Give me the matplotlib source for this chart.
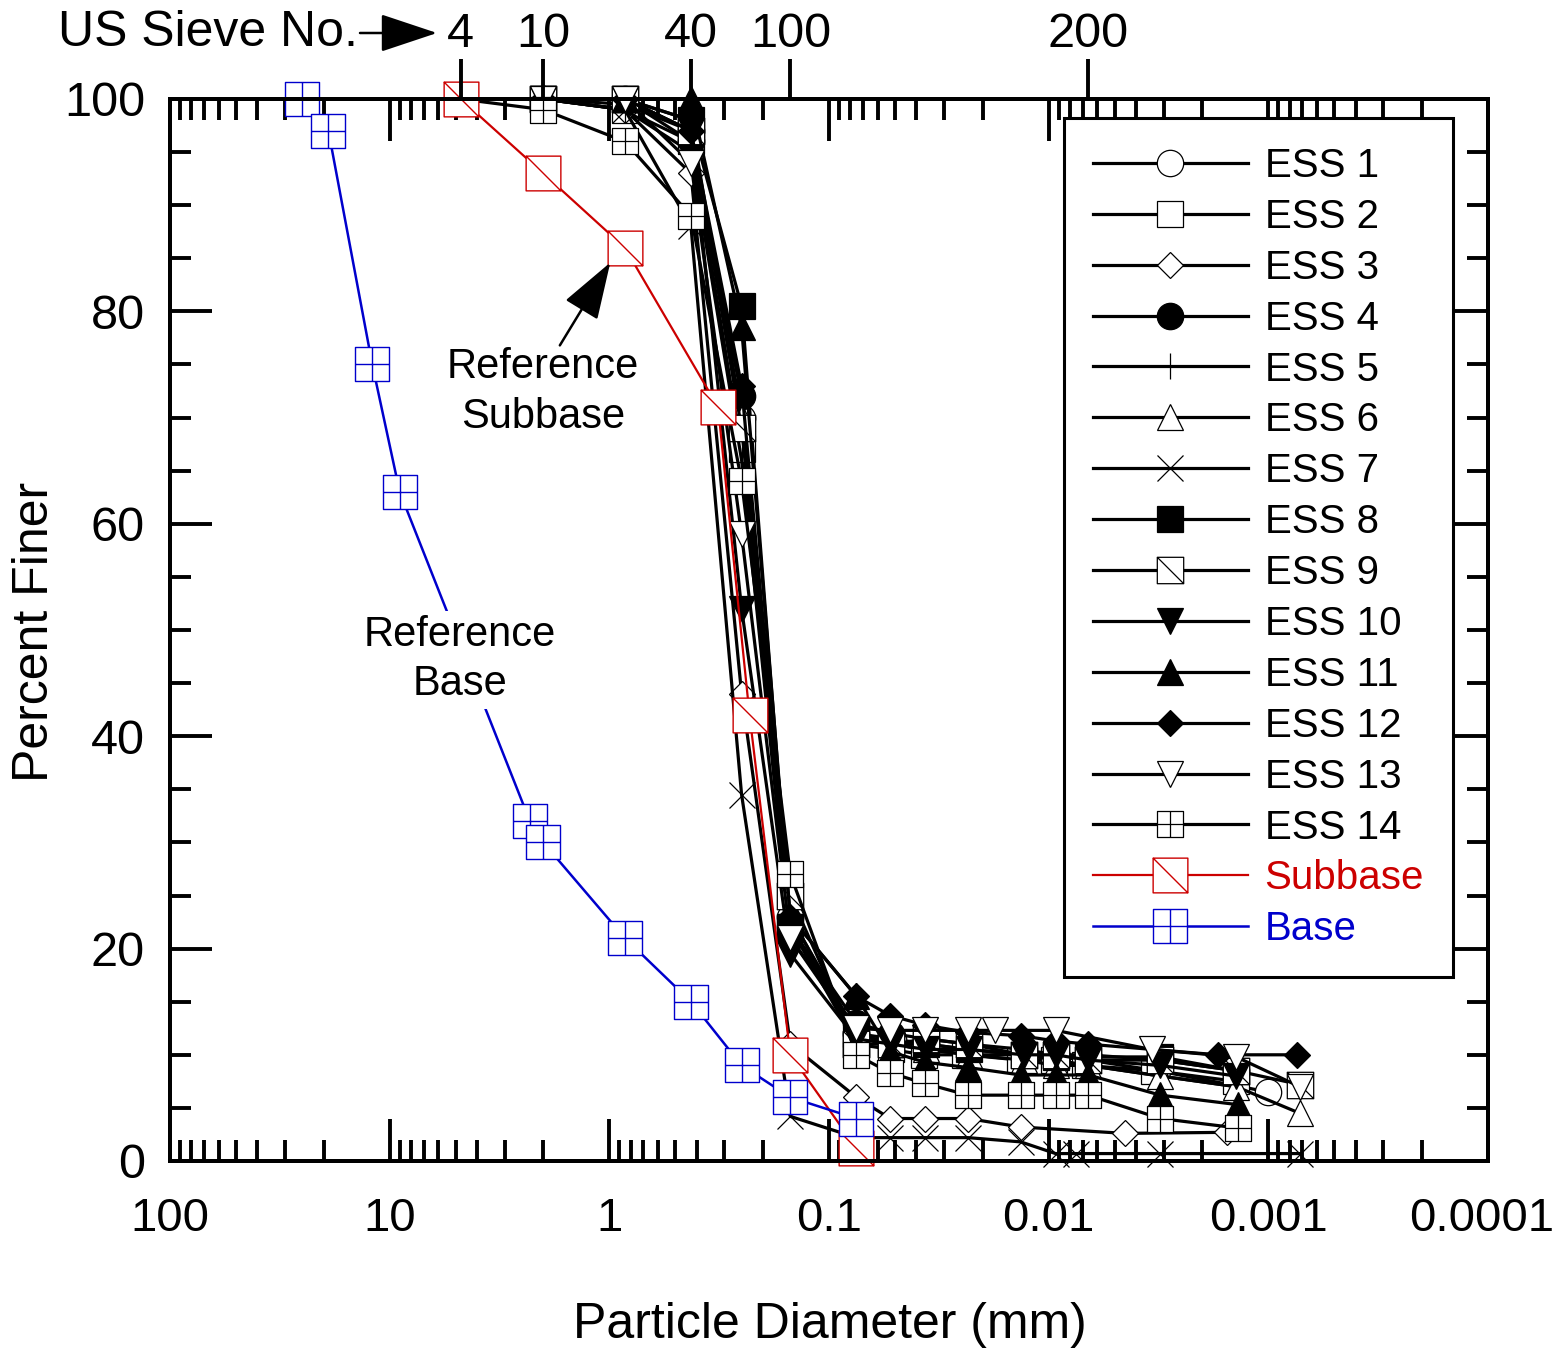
import numpy as np
import matplotlib
matplotlib.use("Agg")
import matplotlib.pyplot as plt
from matplotlib.path import Path
from matplotlib.ticker import LogLocator, MultipleLocator, NullFormatter, NullLocator, FuncFormatter

plt.rcParams['font.family'] = ['Liberation Sans', 'DejaVu Sans']

# sieve openings used for all ESS samples (mm)
sieve_d = [4.75, 2.0, 0.85, 0.425, 0.25, 0.15, 0.075]

ess_labels = [f"ESS {i}" for i in range(1, 15)]

# percent finer at the sieve sizes, one row per sample
ess_sieve_pct = [
    [100, 100, 99.5, 97, 70, 23, 12],
    [100, 100, 99, 96, 67, 22, 11],
    [100, 100, 99, 93, 44, 11, 6],
    [100, 100, 100, 96, 72, 22, 13],
    [100, 100, 99, 95, 66, 21, 12],
    [100, 100, 100, 98, 70, 23, 12],
    [100, 100, 99, 88, 34.5, 4.2, 2.2],
    [100, 100, 100, 98, 80.5, 22, 12],
    [100, 100, 100, 97, 69, 25, 11],
    [100, 100, 100, 97, 52, 19.5, 11.5],
    [100, 100, 100, 100, 78.5, 23, 15.5],
    [100, 100, 100, 97, 73, 23, 15.5],
    [100, 100, 100, 94, 59, 21, 12.5],
    [100, 99, 96, 89, 64, 27, 10],
]

# hydrometer part
ess_hyd_d = [
    [0.051, 0.036, 0.023, 0.013, 0.0092, 0.0066, 0.0032, 0.001],
    [0.052, 0.037, 0.024, 0.0135, 0.0095, 0.0068, 0.0033, 0.0014],
    [0.0527, 0.0366, 0.0233, 0.0134, 0.0045, 0.00154],
    [0.052, 0.036, 0.023, 0.013, 0.0093, 0.0066, 0.0031, 0.0014],
    [0.052, 0.036, 0.023, 0.013, 0.0093, 0.0066, 0.0031, 0.0014],
    [0.052, 0.036, 0.023, 0.013, 0.0093, 0.0066, 0.0031, 0.0014, 0.00072],
    [0.0527, 0.0366, 0.0233, 0.0134, 0.0093, 0.0075, 0.0031, 0.00072],
    [0.052, 0.036, 0.023, 0.013, 0.0093, 0.0066, 0.0031, 0.0014],
    [0.052, 0.036, 0.023, 0.013, 0.0093, 0.0066, 0.0031, 0.0014, 0.00072],
    [0.052, 0.036, 0.023, 0.013, 0.0093, 0.0066, 0.0031, 0.0014],
    [0.0527, 0.0366, 0.0233, 0.0134, 0.0093, 0.0066, 0.0031, 0.00137],
    [0.0527, 0.0366, 0.0233, 0.0134, 0.0093, 0.0066, 0.0017, 0.00074],
    [0.0527, 0.0366, 0.0233, 0.0175, 0.0093, 0.0034, 0.0014, 0.00072],
    [0.0527, 0.0366, 0.0233, 0.0134, 0.0093, 0.0066, 0.0031, 0.00137],
]
ess_hyd_pct = [
    [11.5, 11, 10.5, 10, 9.8, 9.5, 8.5, 6.5],
    [10.5, 10, 10, 9.5, 9.5, 9, 8.5, 7.5],
    [4, 4, 4, 3.2, 2.6, 2.7],
    [12, 11.5, 11, 10.5, 10, 10, 9.5, 8.5],
    [11, 10.5, 10, 10, 9.5, 9, 8, 7],
    [11, 10.5, 10, 9.5, 9, 9, 8, 7, 4.5],
    [2.2, 2.2, 2.2, 1.8, 0.7, 0.7, 0.7, 0.7],
    [11, 11, 10.5, 10, 9.8, 9.8, 9.8, 8.5],
    [11, 11.5, 11, 10, 10, 9.5, 9.5, 8.5, 7.2],
    [11, 10.5, 10.5, 10, 10, 9.5, 9, 8],
    [10.3, 9.3, 8.8, 8.1, 8.1, 8.1, 6.2, 5.3],
    [13.7, 12.8, 12.1, 11.8, 11.3, 11, 10, 10],
    [12.3, 12.3, 12.3, 12.3, 12.3, 10.5, 9.8, 7],
    [8.3, 7.3, 6.2, 6.2, 6.2, 6.2, 4, 3.1],
]

# reference gradations
subbase_d = [4.75, 2.0, 0.85, 0.32, 0.23, 0.15, 0.075]
subbase_pct = [100, 93, 86, 71, 42, 10, 1.2]
base_d = [25, 19, 12, 9, 2.3, 2.0, 0.85, 0.425, 0.25, 0.15, 0.075]
base_pct = [100, 97, 75, 63, 32, 30, 21, 15, 9, 6, 4]

# top axis: US sieve numbers
sieve_tick_d = [4.75, 2.0, 0.425, 0.15, 0.0066]
sieve_tick_lbl = ['4', '10', '40', '100', '200']

# custom markers: square with cross, square with diagonal
M, L, C = Path.MOVETO, Path.LINETO, Path.CLOSEPOLY
sq_cross = Path([(-1, -1), (1, -1), (1, 1), (-1, 1), (-1, -1), (0, -1), (0, 1), (-1, 0), (1, 0)],
                [M, L, L, L, C, M, L, M, L])
sq_diag = Path([(-1, -1), (1, -1), (1, 1), (-1, 1), (-1, -1), (-1, 1), (1, -1)],
               [M, L, L, L, C, M, L])

ess_style = [('o', 'white', 19), ('s', 'white', 19), ('D', 'white', 13.5), ('o', 'black', 19),
             ('|', 'black', 19), ('^', 'white', 19), ('x', 'black', 19), ('s', 'black', 19),
             (sq_diag, 'white', 19), ('v', 'black', 19), ('^', 'black', 19), ('D', 'black', 13.5),
             ('v', 'white', 19), (sq_cross, 'white', 19)]

red = '#cc0000'
blue = '#0000cc'

fig = plt.figure(figsize=(15.62, 13.53), dpi=100)
ax = fig.add_axes([170/1562, 1-1161/1353, 1318/1562, 1062/1353])

for i in range(14):
    mk, fc, ms = ess_style[i]
    ax.plot(sieve_d + ess_hyd_d[i], ess_sieve_pct[i] + ess_hyd_pct[i], color='black', lw=2.3,
            marker=mk, ms=ms, mfc=fc, mec='black', mew=0.9, label=ess_labels[i], clip_on=False)
ax.plot(subbase_d, subbase_pct, color=red, lw=1.6, marker=sq_diag, ms=25, mfc='white',
        mec=red, mew=1.0, label='Subbase', clip_on=False)
ax.plot(base_d, base_pct, color=blue, lw=1.8, marker=sq_cross, ms=25, mfc='white',
        mec=blue, mew=1.0, label='Base', clip_on=False)

ax.set_xscale('log')
ax.set_xlim(100, 1e-4)
ax.set_ylim(0, 100)
ax.xaxis.set_major_locator(LogLocator(base=10, numticks=20))
ax.xaxis.set_minor_locator(LogLocator(base=10, subs=np.arange(2, 10), numticks=100))
ax.xaxis.set_minor_formatter(NullFormatter())
# the last label sits on the figure edge, it is drawn separately a bit to the left
ax.xaxis.set_major_formatter(FuncFormatter(lambda v, _: '' if v < 5e-4 else f'{v:g}'))
ax.yaxis.set_major_locator(MultipleLocator(20))
ax.yaxis.set_minor_locator(MultipleLocator(5))

for s in ax.spines.values():
    s.set_linewidth(2.8)

# secondary top axis with sieve numbers
ax2 = ax.twiny()
ax2.set_xscale('log')
ax2.set_xlim(100, 1e-4)
ax2.set_xticks(sieve_tick_d)
ax2.set_xticklabels(sieve_tick_lbl)
ax2.xaxis.set_minor_locator(NullLocator())
ax2.tick_params(axis='x', direction='out', length=29, width=2.8, labelsize=35, pad=1)
for s in ax2.spines.values():
    s.set_linewidth(2.8)

ax.tick_params(which='both', direction='in', top=True, right=True, width=2.8)
ax.tick_params(which='major', length=30, labelsize=35)
ax.tick_params(which='minor', length=15)
ax.tick_params(axis='x', which='major', pad=26, labelsize=34)
ax.tick_params(axis='y', which='major', pad=18)

fig.text(1482/1562, 1-1197/1353, '0.0001', fontsize=34, ha='center', va='top')

fig.text(830/1562, 1-1325/1353, 'Particle Diameter (mm)', fontsize=36, ha='center', va='center')
fig.text(35/1562, 1-632/1353, 'Percent Finer', fontsize=36, rotation=90, ha='center', va='center')

# US Sieve No. label and arrow
fig.text(58/1562, 1-33/1353, 'US Sieve No.', fontsize=36, ha='left', va='center')
ax.annotate('', xy=(437, 1353-33), xycoords='figure pixels', xytext=(360, 1353-33),
            textcoords='figure pixels',
            arrowprops=dict(arrowstyle='-|>,head_length=0.9,head_width=0.3', mutation_scale=40,
                            lw=1.8, color='black', shrinkA=0, shrinkB=0))

# reference labels
ax.text(2.0, 72.4, 'Reference\nSubbase', fontsize=30, ha='center', va='center', linespacing=1.3)
ax.annotate('', xy=(0.99, 84.6), xytext=(1.68, 76.8),
            arrowprops=dict(arrowstyle='-|>,head_length=0.9,head_width=0.3', mutation_scale=40,
                            lw=1.8, color='black', shrinkA=0, shrinkB=0))
ax.text(4.79, 47.2, 'Reference\nBase', fontsize=30, ha='center', va='center', linespacing=1.3,
        zorder=6, bbox=dict(facecolor='white', edgecolor='none', pad=3))

leg = ax.legend(loc='upper right', bbox_to_anchor=(0.9734, 0.9821), borderaxespad=0,
                fontsize=29, numpoints=1, handlelength=3.85, handletextpad=0.42,
                labelspacing=0.32, borderpad=0.72, fancybox=False, framealpha=1,
                edgecolor='black')
leg.get_frame().set_linewidth(2.2)
leg.get_texts()[14].set_color(red)
leg.get_texts()[15].set_color(blue)

fig.savefig('out.png', dpi=100)
